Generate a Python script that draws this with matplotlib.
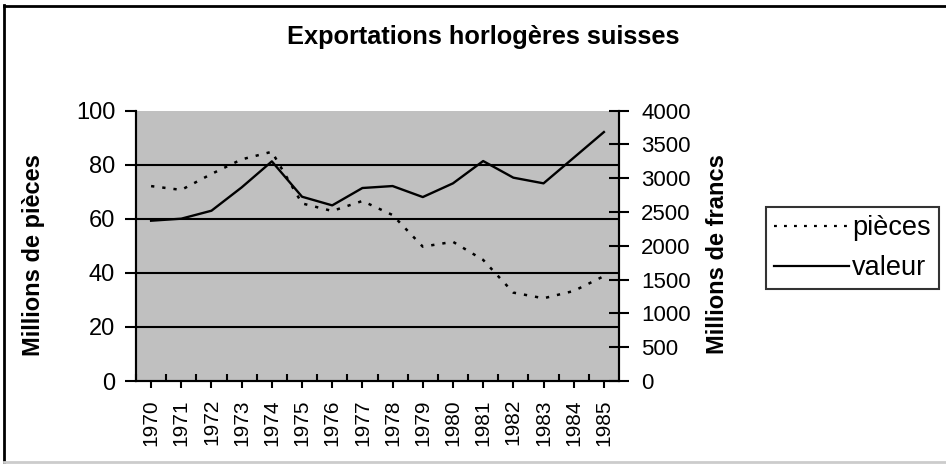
import matplotlib
matplotlib.use("Agg")
import matplotlib.pyplot as plt
import numpy as np
from matplotlib.lines import Line2D

years = ["1970", "1971", "1972", "1973", "1974", "1975", "1976", "1977",
         "1978", "1979", "1980", "1981", "1982", "1983", "1984", "1985"]
pieces = [72.1, 70.7, 76.6, 82.0, 84.8, 65.7, 62.9, 66.6,
          61.4, 49.7, 51.5, 44.8, 32.7, 30.6, 33.3, 38.8]
valeur = [2372, 2402, 2520, 2865, 3250, 2727, 2599, 2856,
          2885, 2722, 2925, 3255, 3009, 2925, 3304, 3684]
left_ticks = [0, 20, 40, 60, 80, 100]
right_ticks = [0, 500, 1000, 1500, 2000, 2500, 3000, 3500, 4000]

plt.rcParams['font.family'] = ['Liberation Sans', 'DejaVu Sans']

fig = plt.figure(figsize=(9.46, 4.65), dpi=100)
ax = fig.add_axes([136/946, 84/465, 483/946, 270.3/465])
ax2 = ax.twinx()

x = np.arange(len(years))
ax.set_facecolor('#c0c0c0')
ax.set_xlim(-0.5, len(years) - 0.5)
ax.set_ylim(0, 100)
ax2.set_ylim(0, 4000)

for v in left_ticks[1:-1]:
    ax.axhline(v, color='black', lw=1.5, zorder=1)

ax.plot(x, pieces, color='black', lw=1.8, linestyle=(0, (1.3, 3.2)), zorder=3)
ax2.plot(x, valeur, color='black', lw=1.7, zorder=3)

for a in (ax, ax2):
    a.spines['top'].set_visible(False)
    a.spines['left'].set_linewidth(1.5)
    a.spines['right'].set_linewidth(1.5)
    a.spines['bottom'].set_linewidth(1.5)

ax.set_yticks(left_ticks)
ax.set_yticklabels([str(t) for t in left_ticks])
ax.tick_params(axis='y', direction='out', length=8, width=1.5, labelsize=17, pad=7)
ax2.set_yticks(right_ticks)
ax2.set_yticklabels([str(t) for t in right_ticks])
ax2.tick_params(axis='y', direction='inout', length=14, width=1.5, labelsize=16, pad=9)

ax.set_xticks(x)
ax.set_xticklabels(years, rotation=90)
ax.set_xticks(np.arange(-0.5, len(years) - 0.5, 1.0), minor=True)
ax.tick_params(axis='x', which='major', direction='out', length=5, width=1.5, labelsize=15, pad=8)
ax.tick_params(axis='x', which='minor', direction='in', length=5, width=1.5)

ax.set_ylabel('Millions de pièces', fontsize=17, fontweight='bold')
ax.yaxis.set_label_coords(-0.188, 0.466)
ax2.set_ylabel('Millions de francs', fontsize=17, fontweight='bold')
ax2.yaxis.set_label_coords(1.18, 0.47)

fig.text(483/946, 1 - 37/465, 'Exportations horlogères suisses', fontsize=18.3,
         fontweight='bold', ha='center', va='center')

handles = [Line2D([], [], color='black', lw=1.6, linestyle=(0, (1.3, 3.2))),
           Line2D([], [], color='black', lw=1.6)]
leg = fig.legend(handles, ['pièces', 'valeur'], loc='upper left',
                 bbox_to_anchor=(766/946, 1 - 207/465), fontsize=19.5,
                 frameon=True, fancybox=False, edgecolor='black',
                 handlelength=2.75, handletextpad=0.12, borderpad=0.3,
                 labelspacing=0.5, borderaxespad=0, handleheight=0.6)
leg.get_frame().set_linewidth(1.5)

# outer frame
fig.add_artist(Line2D([4/946, 4/946], [3/465, 1 - 5/465], transform=fig.transFigure, color='black', lw=2))
fig.add_artist(Line2D([4/946, 1], [1 - 6/465, 1 - 6/465], transform=fig.transFigure, color='black', lw=2))
fig.add_artist(Line2D([4/946, 1], [3/465, 3/465], transform=fig.transFigure, color='#cccccc', lw=2))

fig.savefig('out.png', dpi=100)
